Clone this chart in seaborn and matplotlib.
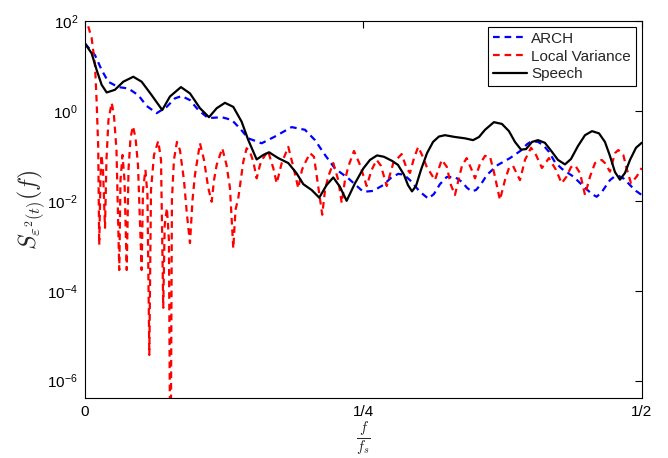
import numpy as np
import pandas as pd
import matplotlib
matplotlib.use("Agg")
import matplotlib.pyplot as plt
import seaborn as sns
from matplotlib.ticker import FixedLocator, FixedFormatter, NullLocator

# Normalised frequency f/fs and log10 of the spectral density for each series
freq_arch = [0.0, 0.0090, 0.0150, 0.0209, 0.0299, 0.0389, 0.0479, 0.0554, 0.0644, 0.0734,
             0.0808, 0.0869, 0.0943, 0.1018, 0.1107, 0.1228, 0.1318, 0.1392, 0.1467, 0.1587,
             0.1706, 0.1856, 0.1976, 0.2066, 0.2156, 0.2245, 0.2365, 0.2500, 0.2587, 0.2679,
             0.2748, 0.2814, 0.2865, 0.2919, 0.3009, 0.3083, 0.3134, 0.3188, 0.3249, 0.3323,
             0.3386, 0.3431, 0.3473, 0.3512, 0.3557, 0.3611, 0.3709, 0.3817, 0.3922, 0.3970,
             0.4015, 0.4069, 0.4116, 0.4167, 0.4221, 0.4284, 0.4386, 0.4491, 0.4553, 0.4596,
             0.4643, 0.4715, 0.4751, 0.4790, 0.4841, 0.4895, 0.4949, 0.5]
log_arch = [1.50, 1.24, 0.91, 0.65, 0.53, 0.50, 0.35, 0.11, -0.05, 0.09,
            0.28, 0.33, 0.24, 0.02, -0.16, -0.14, -0.20, -0.39, -0.61, -0.72,
            -0.57, -0.36, -0.42, -0.65, -0.98, -1.28, -1.50, -1.80, -1.78, -1.65,
            -1.49, -1.40, -1.42, -1.54, -1.80, -1.95, -1.85, -1.63, -1.47, -1.47,
            -1.58, -1.71, -1.79, -1.76, -1.63, -1.42, -1.20, -1.05, -0.87, -0.74,
            -0.67, -0.69, -0.76, -0.91, -1.14, -1.29, -1.46, -1.71, -1.85, -1.91,
            -1.80, -1.54, -1.47, -1.44, -1.51, -1.65, -1.78, -1.87]

freq_local = [0.0, 0.0018, 0.0060, 0.0090, 0.0105, 0.0119, 0.0128, 0.0139, 0.0148, 0.0162,
              0.0180, 0.0193, 0.0211, 0.0240, 0.0260, 0.0283, 0.0308, 0.0319, 0.0337, 0.0355,
              0.0375, 0.0391, 0.0409, 0.0431, 0.0454, 0.0476, 0.0509, 0.0521, 0.0543, 0.0561,
              0.0578, 0.0593, 0.0620, 0.0658, 0.0683, 0.0703, 0.0716, 0.0736, 0.0754, 0.0768,
              0.0781, 0.0799, 0.0826, 0.0853, 0.0889, 0.0916, 0.0943, 0.0966, 0.0988, 0.1033,
              0.1069, 0.1107, 0.1138, 0.1159, 0.1183, 0.1233, 0.1271, 0.1302, 0.1332, 0.1352,
              0.1377, 0.1422, 0.1452, 0.1482, 0.1512, 0.1542, 0.1572, 0.1601, 0.1644, 0.1691,
              0.1722, 0.1767, 0.1826, 0.1871, 0.1916, 0.1949, 0.1976, 0.2021, 0.2057, 0.2095,
              0.2131, 0.2156, 0.2185, 0.2230, 0.2275, 0.2306, 0.2335, 0.2365, 0.2416, 0.2470,
              0.2530, 0.2575, 0.2620, 0.2658, 0.2710, 0.2769, 0.2844, 0.2889, 0.2919, 0.2955,
              0.2993, 0.3027, 0.3069, 0.3143, 0.3204, 0.3249, 0.3287, 0.3323, 0.3359, 0.3386,
              0.3428, 0.3473, 0.3503, 0.3548, 0.3593, 0.3638, 0.3673, 0.3727, 0.3772, 0.3808,
              0.3844, 0.3907, 0.3952, 0.4006, 0.4051, 0.4104, 0.4167, 0.4230, 0.4281, 0.4326,
              0.4365, 0.4401, 0.4446, 0.4491, 0.4536, 0.4581, 0.4641, 0.4670, 0.4715, 0.4760,
              0.4790, 0.4835, 0.4865, 0.4904, 0.4955, 0.5]
log_local = [2.13, 1.98, 1.62, 1.02, 0.20, -0.82, -2.98, -1.54, -0.98, -1.31,
             -2.60, -1.09, -0.20, 0.18, -0.09, -0.87, -3.54, -1.54, -0.98, -1.54,
             -3.54, -1.31, -0.60, -0.34, -0.60, -1.20, -3.54, -1.76, -1.31, -1.87,
             -5.43, -1.76, -0.98, -0.67, -1.09, -4.38, -2.54, -2.16, -2.87, -9.00,
             -1.98, -1.09, -0.69, -0.87, -1.54, -2.31, -2.94, -1.98, -1.42, -0.72,
             -1.09, -1.71, -2.02, -1.54, -1.20, -0.83, -1.20, -1.71, -3.06, -2.20,
             -1.94, -1.13, -0.83, -0.91, -1.13, -1.50, -1.20, -1.05, -0.89, -1.27,
             -1.61, -1.16, -0.80, -1.24, -1.72, -1.31, -1.16, -0.94, -1.02, -1.69,
             -2.31, -1.76, -1.46, -1.16, -1.54, -2.05, -1.54, -1.24, -0.89, -1.20,
             -1.67, -1.31, -1.09, -1.22, -1.67, -1.16, -0.96, -1.28, -1.38, -1.05,
             -0.80, -0.98, -1.24, -1.54, -1.09, -1.24, -1.65, -1.87, -1.49, -1.22,
             -1.05, -1.31, -1.50, -1.18, -1.00, -1.02, -1.36, -1.98, -1.54, -1.27,
             -1.22, -1.54, -1.09, -0.82, -0.98, -1.27, -1.05, -1.31, -1.61, -1.46,
             -1.25, -1.21, -1.38, -1.87, -1.46, -1.16, -1.09, -1.16, -1.35, -0.94,
             -0.87, -0.98, -1.28, -1.61, -1.46, -1.27]

freq_speech = [0.0, 0.0060, 0.0105, 0.0150, 0.0195, 0.0269, 0.0344, 0.0434, 0.0509, 0.0599,
               0.0694, 0.0763, 0.0862, 0.0943, 0.1033, 0.1114, 0.1183, 0.1257, 0.1332, 0.1407,
               0.1467, 0.1542, 0.1601, 0.1653, 0.1736, 0.1826, 0.1901, 0.1961, 0.2036, 0.2104,
               0.2170, 0.2230, 0.2290, 0.2350, 0.2425, 0.2500, 0.2560, 0.2623, 0.2685, 0.2757,
               0.2811, 0.2865, 0.2901, 0.2937, 0.2973, 0.3018, 0.3072, 0.3126, 0.3179, 0.3233,
               0.3323, 0.3413, 0.3486, 0.3539, 0.3593, 0.3673, 0.3745, 0.3808, 0.3862, 0.3916,
               0.3961, 0.4015, 0.4069, 0.4131, 0.4194, 0.4248, 0.4311, 0.4365, 0.4428, 0.4491,
               0.4554, 0.4617, 0.4670, 0.4715, 0.4760, 0.4805, 0.4850, 0.4895, 0.4949, 0.5]
log_speech = [1.50, 1.28, 0.91, 0.58, 0.41, 0.47, 0.65, 0.76, 0.65, 0.35,
              0.02, 0.32, 0.53, 0.39, 0.06, -0.14, 0.06, 0.18, 0.09, -0.24,
              -0.65, -1.08, -0.98, -0.92, -1.05, -1.16, -1.39, -1.63, -1.76, -1.93,
              -1.65, -1.48, -1.69, -2.00, -1.61, -1.28, -1.09, -0.99, -1.02, -1.11,
              -1.20, -1.42, -1.65, -1.79, -1.67, -1.31, -0.94, -0.69, -0.57, -0.54,
              -0.58, -0.61, -0.65, -0.58, -0.42, -0.25, -0.29, -0.45, -0.69, -0.86,
              -0.85, -0.69, -0.65, -0.71, -0.91, -1.09, -1.19, -1.07, -0.78, -0.54,
              -0.45, -0.50, -0.69, -1.00, -1.36, -1.53, -1.38, -1.09, -0.82, -0.71]

series_names = ["ARCH", "Local Variance", "Speech"]
series_colors = ["#0000ff", "#ff0000", "#000000"]

x_ticks = [0.0, 0.25, 0.5]
x_tick_labels = ["0", "1/4", "1/2"]
y_ticks = [1e-6, 1e-4, 1e-2, 1e0, 1e2]
y_tick_labels = [r"$10^{-6}$", r"$10^{-4}$", r"$10^{-2}$", r"$10^{0}$", r"$10^{2}$"]

sns.set_style("white")
plt.rcParams.update({
    "font.family": ["Liberation Sans", "DejaVu Sans"],
    "font.size": 11,
    "mathtext.fontset": "custom",
    "mathtext.rm": "Liberation Sans",
    "mathtext.it": "Liberation Sans:italic",
    "mathtext.bf": "Liberation Sans:bold",
    "axes.edgecolor": "black",
    "axes.linewidth": 0.8,
    "xtick.color": "black",
    "ytick.color": "black",
})

fig = plt.figure(figsize=(6.68, 4.58), dpi=100)
ax = fig.add_axes([0.1272, 0.1310, 0.8334, 0.8231])

frames = [
    pd.DataFrame({"f": freq_arch, "S": 10.0 ** np.array(log_arch)}),
    pd.DataFrame({"f": freq_local, "S": 10.0 ** np.array(log_local)}),
    pd.DataFrame({"f": freq_speech, "S": 10.0 ** np.array(log_speech)}),
]
styles = [(0, (3.0, 2.2)), (0, (3.0, 2.2)), "-"]

for df, name, color, ls in zip(frames, series_names, series_colors, styles):
    sns.lineplot(data=df, x="f", y="S", ax=ax, color=color, linestyle=ls,
                 linewidth=1.6, label=name, estimator=None, sort=False)

ax.set_yscale("log")
ax.set_xlim(0, 0.5)
ax.set_ylim(4.1e-7, 1e2)

ax.xaxis.set_major_locator(FixedLocator(x_ticks))
ax.xaxis.set_major_formatter(FixedFormatter(x_tick_labels))
ax.yaxis.set_major_locator(FixedLocator(y_ticks))
ax.yaxis.set_major_formatter(FixedFormatter(y_tick_labels))
ax.yaxis.set_minor_locator(NullLocator())
ax.xaxis.set_minor_locator(NullLocator())
ax.tick_params(which="major", direction="in", length=5, width=0.8,
               top=True, right=True, labelsize=11, pad=5)

for spine in ax.spines.values():
    spine.set_visible(True)
    spine.set_color("black")
    spine.set_linewidth(0.8)

ax.set_ylabel(r"$S_{\varepsilon^2(t)}(f)$", fontsize=17, math_fontfamily="cm", labelpad=0)
ax.set_xlabel(r"$\frac{f}{f_s}$", fontsize=15, math_fontfamily="cm")
ax.xaxis.set_label_coords(0.5, -0.058)

leg = ax.legend(loc="upper right", fontsize=11, frameon=True, fancybox=False,
                edgecolor="black", framealpha=1, borderaxespad=0.4, borderpad=0.3,
                handlelength=2.2, handletextpad=0.3, labelspacing=0.25)
leg.get_frame().set_linewidth(0.8)

fig.savefig("out.png", dpi=100)
